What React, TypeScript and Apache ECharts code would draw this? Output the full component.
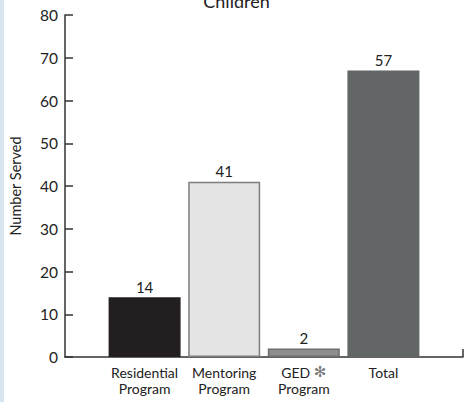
import React, { useEffect, useRef } from "react";
import * as echarts from "echarts";

const categories = ["", "Residential\nProgram", "Mentoring\nProgram", "GED {ast|✻}\nProgram", "Total", ""];
const barValues = [14, 41, 2, 67];
const barLabels = ["14", "41", "2", "57"];
const barColors = ["#231f20", "#e4e4e4", "#8c8e8f", "#636667"];
const barBorders = ["#231f20", "#7d7d7d", "#6e6e6e", "#636667"];
const yTitle = "Number Served";
const chartTitle = "Children";

const FONT = "Lato, 'Noto Sans', sans-serif";

export default function App() {
  const ref = useRef<HTMLDivElement>(null);
  useEffect(() => {
    if (!ref.current) return;
    const chart = echarts.init(ref.current, undefined, { renderer: "svg" });
    const data: any[] = ["-"];
    barValues.forEach((v, i) => {
      data.push({
        value: v,
        itemStyle: { color: barColors[i], borderColor: barBorders[i], borderWidth: 1.5 },
      });
    });
    data.push("-");
    chart.setOption({
      animation: false,
      backgroundColor: "#ffffff",
      title: {
        text: chartTitle,
        left: "center",
        top: -13,
        textStyle: { fontFamily: FONT, fontSize: 18, fontWeight: "normal", color: "#222" },
      },
      graphic: [
        { type: "rect", shape: { x: 0, y: 0, width: 4, height: 402 }, style: { fill: "#d9e5ee" } },
      ],
      grid: { left: 65, right: 10, top: 15, bottom: 45, containLabel: false },
      xAxis: {
        type: "category",
        data: categories,
        boundaryGap: false,
        axisLine: { show: true, lineStyle: { color: "#333", width: 1.5 } },
        axisTick: {
          show: true,
          inside: true,
          length: 8,
          interval: (i: number) => i === categories.length - 1,
          lineStyle: { color: "#333", width: 1.5 },
        },
        axisLabel: {
          interval: 0,
          fontFamily: FONT,
          fontSize: 14,
          lineHeight: 16,
          color: "#222",
          margin: 7,
          rich: {
            ast: { fontFamily: "'DejaVu Sans'", fontSize: 15, color: "#777", lineHeight: 16 },
          },
        },
        splitLine: { show: false },
      },
      yAxis: {
        type: "value",
        min: 0,
        max: 80,
        interval: 10,
        name: yTitle,
        nameLocation: "middle",
        nameRotate: 90,
        nameGap: 42,
        nameTextStyle: { fontFamily: FONT, fontSize: 14.5, color: "#222" },
        axisLine: { show: true, lineStyle: { color: "#333", width: 1.5 } },
        axisTick: { show: true, inside: true, length: 8, lineStyle: { color: "#333", width: 1.5 } },
        axisLabel: { fontFamily: FONT, fontSize: 15.5, color: "#222", margin: 7 },
        splitLine: { show: false },
      },
      series: [
        {
          type: "bar",
          data,
          barWidth: 72,
          label: {
            show: true,
            position: "top",
            distance: 3,
            fontFamily: FONT,
            fontSize: 15,
            color: "#222",
            formatter: (p: any) => barLabels[p.dataIndex - 1] ?? "",
          },
        },
      ],
    });
    return () => chart.dispose();
  }, []);
  return <div ref={ref} style={{ position: "fixed", left: 0, top: 0, width: 473, height: 402 }} />;
}
